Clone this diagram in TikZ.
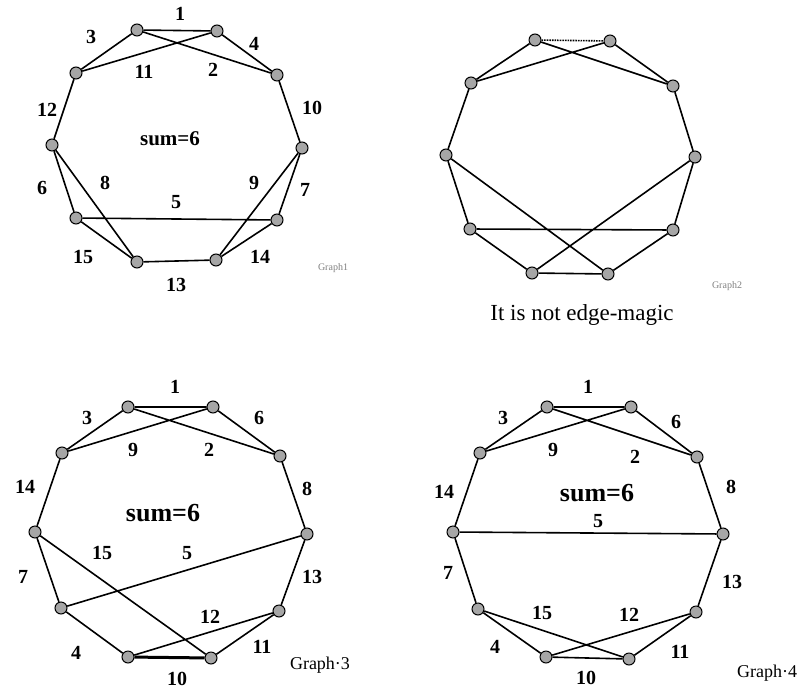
\documentclass[tikz,border=0pt]{standalone}
\usepackage{fontspec}
\setmainfont{Liberation Serif}
\begin{document}
\begin{tikzpicture}[x=1pt,y=-1pt,
  v/.style={circle,draw=black,fill=gray!70,inner sep=0pt,minimum size=12pt,line width=1pt},
  e/.style={line width=1.6pt,draw=black},
  lab/.style={font=\fontsize{20}{20}\selectfont\bfseries,inner sep=0pt},
  summ/.style={font=\fontsize{26}{26}\selectfont\bfseries,inner sep=0pt},
  gcapsmall/.style={font=\fontsize{10}{10}\selectfont,text=gray,inner sep=0pt},
  gcapbig/.style={font=\fontsize{18}{18}\selectfont,inner sep=0pt}]
\useasboundingbox (0,0) rectangle (799,690);

% ---------- Graph 1 ----------
\node[v] (a1) at (137,30) {};
\node[v] (b1) at (217,31) {};
\node[v] (c1) at (277,75) {};
\node[v] (d1) at (302,148) {};
\node[v] (e1) at (277,220) {};
\node[v] (f1) at (216,260) {};
\node[v] (g1) at (137,262) {};
\node[v] (h1) at (76,218) {};
\node[v] (i1) at (52,145) {};
\node[v] (j1) at (76,73) {};
\draw[e] (a1)--(b1) (a1)--(c1) (b1)--(j1) (a1)--(j1) (b1)--(c1) (c1)--(d1)
  (j1)--(i1) (i1)--(h1) (i1)--(g1) (h1)--(g1) (h1)--(e1) (d1)--(e1)
  (d1)--(f1) (e1)--(f1) (g1)--(f1);
\node[lab] (l1a) at (180,14) {1};
\node[lab] (l1b) at (91,37) {3};
\node[lab] (l1c) at (254,44) {4};
\node[lab] (l1d) at (144,72) {11};
\node[lab] (l1e) at (213,70) {2};
\node[lab] (l1f) at (47,110) {12};
\node[lab] (l1g) at (312,108) {10};
\node[summ,font=\fontsize{21}{21}\selectfont\bfseries] (s1) at (170,139) {sum=6};
\node[lab] (l1h) at (42,188) {6};
\node[lab] (l1i) at (105,183) {8};
\node[lab] (l1j) at (254,183) {9};
\node[lab] (l1k) at (305,190) {7};
\node[lab] (l1l) at (176,202) {5};
\node[lab] (l1m) at (83,257) {15};
\node[lab] (l1n) at (260,257) {14};
\node[lab] (l1o) at (176,285) {13};
\node[gcapsmall] (c1cap) at (333,268) {Graph1};

% ---------- Graph 2 ----------
\node[v] (a2) at (535,40) {};
\node[v] (b2) at (610,41) {};
\node[v] (c2) at (673,86) {};
\node[v] (d2) at (695,157) {};
\node[v] (e2) at (673,230) {};
\node[v] (f2) at (608,274) {};
\node[v] (g2) at (532,273) {};
\node[v] (h2) at (470,229) {};
\node[v] (i2) at (446,155) {};
\node[v] (j2) at (471,83) {};
\draw[e,densely dotted] (a2)--(b2);
\draw[e] (a2)--(c2) (b2)--(j2) (a2)--(j2) (b2)--(c2) (c2)--(d2)
  (j2)--(i2) (i2)--(h2) (i2)--(f2) (h2)--(g2) (h2)--(e2) (d2)--(g2)
  (d2)--(e2) (e2)--(f2) (g2)--(f2);
\node[gcapsmall] (c2cap) at (727,286) {Graph2};
\node[font=\fontsize{23}{23}\selectfont,inner sep=0pt] (ne) at (582,315) {It is not edge-magic};

% ---------- Graph 3 ----------
\node[v] (a3) at (128,407) {};
\node[v] (b3) at (213,407) {};
\node[v] (c3) at (280,456) {};
\node[v] (d3) at (307,534) {};
\node[v] (e3) at (279,611) {};
\node[v] (f3) at (211,658) {};
\node[v] (g3) at (128,657) {};
\node[v] (h3) at (61,608) {};
\node[v] (i3) at (35,532) {};
\node[v] (j3) at (62,453) {};
\draw[e] (a3)--(b3) (a3)--(c3) (b3)--(j3) (a3)--(j3) (b3)--(c3) (c3)--(d3)
  (j3)--(i3) (i3)--(h3) (i3)--(f3) (h3)--(d3) (h3)--(g3)
  (g3)--(e3) (e3)--(f3) (d3)--(e3);
\draw[line width=3pt,draw=black] (g3)--(f3);
\node[lab] (l3a) at (175,387) {1};
\node[lab] (l3b) at (87,418) {3};
\node[lab] (l3c) at (259,418) {6};
\node[lab] (l3d) at (133,450) {9};
\node[lab] (l3e) at (209,450) {2};
\node[lab] (l3f) at (25,487) {14};
\node[lab] (l3g) at (307,489) {8};
\node[summ] (s3) at (163,513) {sum=6};
\node[lab] (l3h) at (102,553) {15};
\node[lab] (l3i) at (187,553) {5};
\node[lab] (l3j) at (23,577) {7};
\node[lab] (l3k) at (312,577) {13};
\node[lab] (l3l) at (210,617) {12};
\node[lab] (l3m) at (76,653) {4};
\node[lab] (l3n) at (262,647) {11};
\node[lab] (l3o) at (177,679) {10};
\node[gcapbig] (c3cap) at (320,665) {Graph·3};

% ---------- Graph 4 ----------
\node[v] (a4) at (547,407) {};
\node[v] (b4) at (631,407) {};
\node[v] (c4) at (697,457) {};
\node[v] (d4) at (723,534) {};
\node[v] (e4) at (696,612) {};
\node[v] (f4) at (629,659) {};
\node[v] (g4) at (546,657) {};
\node[v] (h4) at (478,609) {};
\node[v] (i4) at (453,532) {};
\node[v] (j4) at (480,453) {};
\draw[e] (a4)--(b4) (a4)--(c4) (b4)--(j4) (a4)--(j4) (b4)--(c4) (c4)--(d4)
  (j4)--(i4) (i4)--(d4) (i4)--(h4) (h4)--(g4) (h4)--(f4) (g4)--(e4)
  (g4)--(f4) (e4)--(f4) (d4)--(e4);
\node[lab] (l4a) at (588,387) {1};
\node[lab] (l4b) at (503,418) {3};
\node[lab] (l4c) at (676,422) {6};
\node[lab] (l4d) at (553,450) {9};
\node[lab] (l4e) at (635,457) {2};
\node[lab] (l4f) at (444,492) {14};
\node[summ] (s4) at (597,493) {sum=6};
\node[lab] (l4g) at (731,487) {8};
\node[lab] (l4h) at (598,521) {5};
\node[lab] (l4i) at (448,573) {7};
\node[lab] (l4j) at (732,582) {13};
\node[lab] (l4k) at (542,613) {15};
\node[lab] (l4l) at (629,615) {12};
\node[lab] (l4m) at (495,647) {4};
\node[lab] (l4n) at (680,652) {11};
\node[lab] (l4o) at (586,678) {10};
\node[gcapbig] (c4cap) at (767,673) {Graph·4};
\end{tikzpicture}
\end{document}
